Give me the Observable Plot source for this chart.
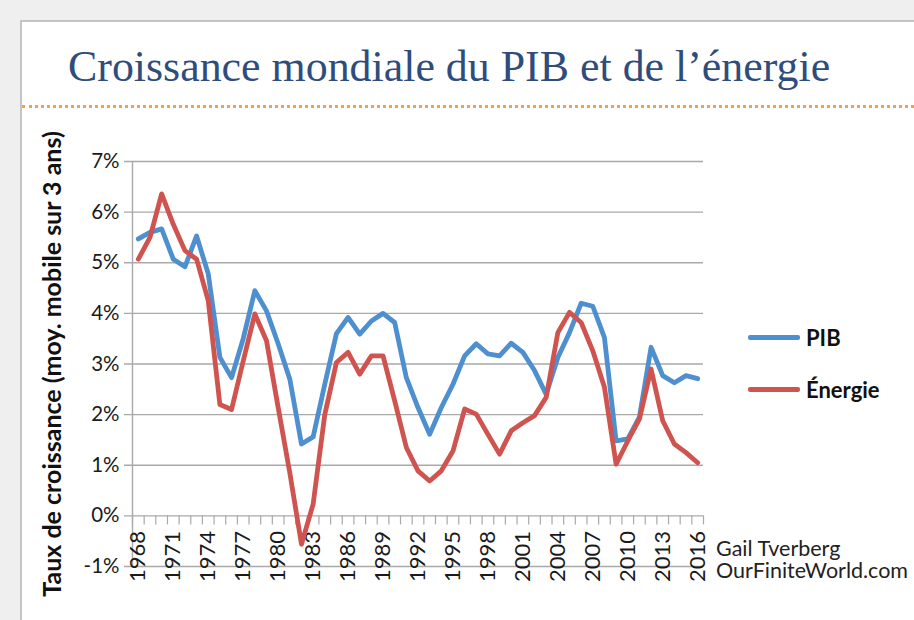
<!DOCTYPE html>
<html>
<head>
<meta charset="utf-8">
<script src="https://cdn.jsdelivr.net/npm/d3@7"></script>
<script src="https://cdn.jsdelivr.net/npm/@observablehq/plot@0.6"></script>
<style>
  html, body { margin: 0; padding: 0; background: #efefef; width: 914px; height: 620px; overflow: hidden; }
  #panel { position: absolute; left: 20px; top: 20px; width: 910px; height: 620px; background: #fff; border-left: 2px solid #c4c4c4; border-top: 2px solid #c4c4c4; }
  #title { position: absolute; left: 68px; top: 41px; font-family: "Liberation Serif", serif; font-size: 43.9px; color: #2f4d7c; white-space: nowrap; }
  #rule { position: absolute; left: 22px; top: 105px; width: 892px; height: 0; border-top: 3px dotted #f0a050; }
  #chart { position: absolute; left: 0; top: 0; }
  .leg { position: absolute; font-family: Lato, sans-serif; font-weight: bold; font-size: 22px; color: #111; white-space: nowrap; }
  .legline { position: absolute; height: 5px; border-radius: 2px; }
  .credit { position: absolute; left: 716px; top: 537px; font-family: Lato, sans-serif; font-size: 21.5px; line-height: 22px; color: #222; white-space: pre; }
</style>
</head>
<body>
<div id="panel"></div>
<div id="title">Croissance mondiale du PIB et de l’énergie</div>
<div id="rule"></div>
<div id="chart"></div>
<div class="legline" style="left:748px;top:335px;width:52px;background:#4e8fd0"></div>
<div class="leg" style="left:806px;top:324px">PIB</div>
<div class="legline" style="left:748px;top:387px;width:52px;background:#cf5450"></div>
<div class="leg" style="left:806px;top:376px">Énergie</div>
<div class="credit" id="credit"></div>
<script>
const years = d3.range(1968, 2017);
const pib = [5.47,5.6,5.67,5.07,4.92,5.53,4.78,3.13,2.73,3.5,4.45,4.05,3.4,2.7,1.42,1.56,2.6,3.6,3.92,3.59,3.85,4.0,3.82,2.73,2.14,1.61,2.14,2.6,3.16,3.4,3.2,3.16,3.41,3.23,2.87,2.4,3.13,3.62,4.2,4.14,3.52,1.48,1.52,1.95,3.33,2.77,2.63,2.77,2.71];
const energie = [5.07,5.5,6.36,5.76,5.24,5.07,4.25,2.2,2.1,3.06,3.99,3.46,2.14,0.85,-0.56,0.23,2.0,3.03,3.23,2.8,3.16,3.16,2.27,1.35,0.89,0.69,0.89,1.28,2.11,2.01,1.61,1.22,1.68,1.84,1.98,2.34,3.62,4.02,3.82,3.26,2.54,1.02,1.48,1.91,2.9,1.88,1.42,1.25,1.05];
const yTicks = [-1,0,1,2,3,4,5,6,7];
const xLabelYears = d3.range(1968, 2017, 3);
const yTitle = "Taux de croissance (moy. mobile sur 3 ans)";
const creditLines = ["Gail Tverberg", "OurFiniteWorld.com"];

document.getElementById("credit").textContent = creditLines.join("\n");

const bounds = d3.range(years.length + 1).map(i => years[0] - 0.5 + i);
const pibData = years.map((y, i) => ({year: y, v: pib[i]}));
const enData = years.map((y, i) => ({year: y, v: energie[i]}));

const plot = Plot.plot({
  width: 914,
  height: 620,
  marginLeft: 132,
  marginRight: 211,
  marginTop: 161,
  marginBottom: 54,
  style: {background: "transparent", fontFamily: "Lato, sans-serif"},
  x: {type: "linear", domain: [years[0] - 0.5, years[years.length - 1] + 0.5], axis: null},
  y: {domain: [-1, 7], axis: null},
  marks: [
    Plot.ruleY(yTicks, {stroke: "#a9a9a9", strokeWidth: 1.4, insetLeft: -8}),
    Plot.ruleX([bounds[0]], {stroke: "#a9a9a9", strokeWidth: 1.4}),
    Plot.ruleX(bounds, {x: d => d, y1: 0, y2: 0, insetBottom: -9, stroke: "#a9a9a9", strokeWidth: 1.2}),
    Plot.text(yTicks, {x: bounds[0], y: d => d, text: d => d + "%", textAnchor: "end", dx: -13, fontSize: 20.5, fill: "#1a1a1a"}),
    Plot.text(xLabelYears, {x: d => d, y: 0, text: d => String(d), rotate: -90, textAnchor: "end", dy: 15, fontSize: 22, fill: "#1a1a1a"}),
    Plot.text([yTitle], {frameAnchor: "left", text: d => d, rotate: -90, textAnchor: "middle", dx: -80, fontSize: 25, fontWeight: "bold", fill: "#111"}),
    Plot.line(pibData, {x: "year", y: "v", stroke: "#4e8fd0", strokeWidth: 4.8, strokeLinejoin: "round"}),
    Plot.line(enData, {x: "year", y: "v", stroke: "#cf5450", strokeWidth: 4.8, strokeLinejoin: "round"})
  ]
});
document.getElementById("chart").appendChild(plot);
</script>
</body>
</html>
